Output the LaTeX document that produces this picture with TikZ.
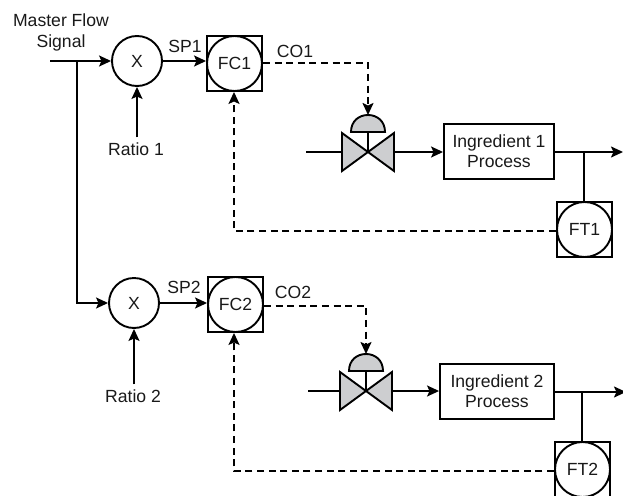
\documentclass[tikz,border=0pt]{standalone}
\usepackage{fontspec}
\setmainfont{Liberation Sans}
\usetikzlibrary{arrows.meta}
\definecolor{valvegray}{HTML}{CDCED0}
\tikzset{
  x=1pt,y=-1pt,
  every node/.style={font=\fontsize{17.6}{20}\selectfont,text=black!90},
  line/.style={line width=1.9pt,line join=miter,black},
  flow/.style={line,-{Stealth[length=12pt,width=11pt,inset=2.5pt]}},
  sig/.style={flow,dash pattern=on 7pt off 4.6pt},
  mult/.style={circle,draw,line width=1.9pt,minimum size=50pt,inner sep=0pt},
  instbox/.style={rectangle,draw,line width=1.9pt,minimum size=55pt,inner sep=0pt},
  inst/.style={circle,draw,line width=1.9pt,minimum size=55pt,inner sep=0pt},
  procbox/.style={rectangle,draw,line width=1.9pt,align=center,inner sep=0pt},
  lbl/.style={inner sep=0pt,align=center},
  valvepart/.style={line,fill=valvegray},
  pics/valve/.style={code={
    \draw[valvepart] (-26,-19) -- (0,0) -- (-26,19) -- cycle;
    \draw[valvepart] (26,-19) -- (0,0) -- (26,19) -- cycle;
    \draw[line] (0,0) -- (0,-20);
    \draw[valvepart] (-17,-20) .. controls (-17,-31) and (-9,-37) .. (0,-37)
       .. controls (9,-37) and (17,-31) .. (17,-20) -- cycle;
  }}
}
\begin{document}
\begin{tikzpicture}
\useasboundingbox (0,0) rectangle (623,495);
\clip (0,0) rectangle (623,495);
% labels
\node[lbl] (master) at (61,20) {Master Flow};
\node[lbl] (signal) at (61,43) {Signal};
\node[lbl] (r1) at (136,149) {Ratio 1};
\node[lbl] (r2) at (133,396) {Ratio 2};
\node[lbl] (sp1) at (185,46) {SP1};
\node[lbl] (sp2) at (184,287) {SP2};
\node[lbl] (co1) at (295,51) {CO1};
\node[lbl] (co2) at (293,292) {CO2};
% multipliers
\node[mult] (x1) at (137,61) {X};
\node[mult] (x2) at (134,303) {X};
% instruments
\node[instbox] (fc1s) at (234.5,63.5) {};
\node[inst] (fc1) at (234.5,63.5) {FC1};
\node[instbox] (fc2s) at (235.5,304.5) {};
\node[inst] (fc2) at (235.5,304.5) {FC2};
\node[instbox] (ft1s) at (584.5,229.5) {};
\node[inst] (ft1) at (584.5,229.5) {FT1};
\node[instbox] (ft2s) at (582.5,469.5) {};
\node[inst] (ft2) at (582.5,469.5) {FT2};
% processes
\node[procbox,minimum width=110pt,minimum height=55pt] (p1) at (499,151.5) {Ingredient 1\\Process};
\node[procbox,minimum width=114pt,minimum height=55pt] (p2) at (497,391.5) {Ingredient 2\\Process};
% valves
\coordinate (v1) at (368,152);
\coordinate (v2) at (366,391);
\pic at (v1) {valve};
\pic at (v2) {valve};
\coordinate (v1l) at (342,152);
\coordinate (v1r) at (394,152);
\coordinate (v2l) at (340,391);
\coordinate (v2r) at (392,391);
\coordinate (v1t) at (368,115);
\coordinate (v2t) at (366,354);
% free ends
\coordinate (in) at (50,61);
\coordinate (branch) at (77,61);
\coordinate (v1in) at (306,152);
\coordinate (v2in) at (308,391);
\coordinate (o1) at (623,152);
\coordinate (o2) at (626,392);
\coordinate (b1) at (584,152);
\coordinate (b2) at (582,392);
% connectors
\draw[flow] (in) -- (x1.west);
\draw[flow] (branch) |- (x2.west);
\draw[flow] (x1.east) -- (fc1.west |- x1.east);
\draw[flow] (x2.east) -- (fc2.west |- x2.east);
\draw[flow] (r1.north -| x1.south) ++(0,-5) -- (x1.south);
\draw[flow] (r2.north -| x2.south) ++(0,-5) -- (x2.south);
\draw[sig] ([yshift=0.5pt]fc1.east) -| (v1t);
\draw[sig] ([yshift=-1.5pt]fc2.east) -| (v2t);
\draw[line] (v1in) -- (v1l);
\draw[line] (v2in) -- (v2l);
\draw[flow] (v1r) -- (p1.west |- v1r);
\draw[flow] (v2r) -- (p2.west |- v2r);
\draw[flow] (p1.east |- o1) -- (o1);
\draw[flow] (p2.east |- o2) -- (o2);
\draw[line] (b1) -- (b1 |- ft1s.north);
\draw[line] (b2) -- (b2 |- ft2s.north);
\draw[sig] ([yshift=-1.5pt]ft1.west) -| ([xshift=-0.5pt]fc1s.south);
\draw[sig] ([yshift=-1.5pt]ft2.west) -| ([xshift=-1.5pt]fc2s.south);
\end{tikzpicture}
\end{document}
